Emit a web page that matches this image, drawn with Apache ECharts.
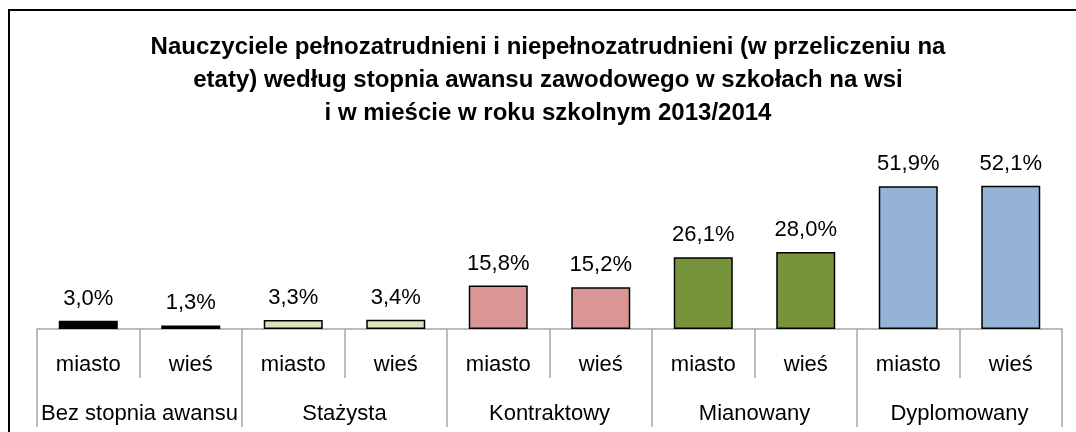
<!DOCTYPE html>
<html>
<head>
<meta charset="utf-8">
<script src="https://cdn.jsdelivr.net/npm/echarts@6/dist/echarts.min.js"></script>
<style>
  html, body { margin: 0; padding: 0; background: #fff; }
  #chart { width: 1076px; height: 432px; }
</style>
</head>
<body>
<div id="chart"></div>
<script>
// Title lines
const titleLines = [
  'Nauczyciele pełnozatrudnieni i niepełnozatrudnieni (w przeliczeniu na',
  'etaty) według stopnia awansu zawodowego w szkołach na wsi',
  'i w mieście w roku szkolnym 2013/2014'
];

// Inner category level (place) and outer level (promotion grade)
const places = ['miasto', 'wieś', 'miasto', 'wieś', 'miasto', 'wieś', 'miasto', 'wieś', 'miasto', 'wieś'];
const grades = ['Bez stopnia awansu', 'Stażysta', 'Kontraktowy', 'Mianowany', 'Dyplomowany'];

// Share of teachers, percent
const shares = [3.0, 1.3, 3.3, 3.4, 15.8, 15.2, 26.1, 28.0, 51.9, 52.1];

// One fill per grade
const gradeColors = ['#000000', '#d7e4bd', '#d99694', '#77933c', '#95b3d7'];

const FONT = '"Liberation Sans", Arial, sans-serif';

const chart = echarts.init(document.getElementById('chart'), null, { renderer: 'canvas' });

const barData = shares.map((v, i) => ({
  value: v,
  itemStyle: { color: gradeColors[Math.floor(i / 2)] }
}));

chart.setOption({
  animation: false,
  backgroundColor: '#ffffff',
  grid: { left: 37, right: 14, top: 164, bottom: 103, containLabel: false },
  graphic: [
    {
      type: 'rect',
      shape: { x: 9, y: 10, width: 1200, height: 600 },
      style: { fill: 'none', stroke: '#000', lineWidth: 2 },
      silent: true
    },
    {
      type: 'text',
      x: 548,
      y: 30.5,
      style: {
        text: titleLines.join('\n'),
        font: 'bold 24px ' + FONT,
        textAlign: 'center',
        lineHeight: 33,
        fill: '#000'
      }
    }
  ],
  xAxis: [
    {
      type: 'category',
      data: places,
      position: 'bottom',
      axisLine: { show: true, lineStyle: { color: '#a6a6a6', width: 1.5 } },
      axisTick: { show: true, interval: 0, length: 49, lineStyle: { color: '#a6a6a6', width: 1.5 } },
      axisLabel: { interval: 0, margin: 25, color: '#000', fontFamily: FONT, fontSize: 22 }
    },
    {
      type: 'category',
      data: grades,
      position: 'bottom',
      axisLine: { show: false },
      axisTick: { show: true, interval: 0, length: 98, lineStyle: { color: '#a6a6a6', width: 1.5 } },
      axisLabel: { interval: 0, margin: 74, color: '#000', fontFamily: FONT, fontSize: 22 }
    }
  ],
  yAxis: {
    type: 'value',
    min: 0,
    max: 60,
    show: false,
    splitLine: { show: false }
  },
  series: [
    {
      type: 'bar',
      xAxisIndex: 0,
      data: barData,
      barWidth: 59,
      itemStyle: { borderColor: '#000', borderWidth: 1.5 },
      label: {
        show: true,
        position: 'top',
        distance: 11,
        color: '#000',
        fontFamily: FONT,
        fontSize: 22,
        formatter: p => p.value.toFixed(1).replace('.', ',') + '%'
      }
    }
  ]
});
</script>
</body>
</html>
